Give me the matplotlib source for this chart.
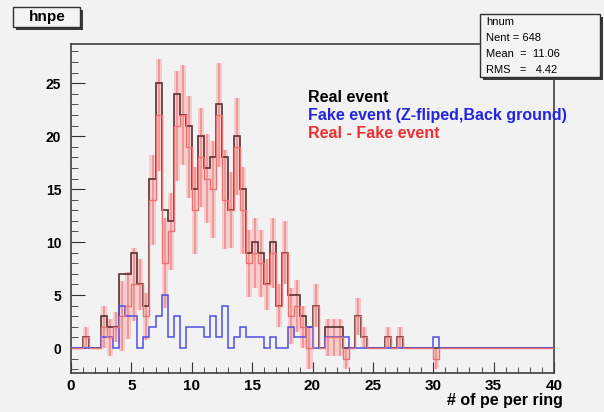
import numpy as np
import matplotlib.pyplot as plt
from matplotlib.patches import Rectangle

# number of photoelectrons per ring, 0.5 wide bins from 0 to 40
bin_lo, bin_hi, bin_w = 0.0, 40.0, 0.5

real_counts = [
    0, 0, 1, 0, 0, 3, 2, 2, 7, 7,
    9, 6, 4, 16, 25, 13, 12, 24, 22, 21,
    15, 20, 17, 18, 23, 18, 13, 20, 15, 9,
    10, 9, 6, 10, 4, 9, 5, 5, 3, 2,
    4, 0, 2, 2, 2, 0, 0, 3, 1, 0,
    0, 0, 1, 0, 1, 0, 0, 0, 0, 0,
    0, 0, 0, 0, 0, 0, 0, 0, 0, 0,
    0, 0, 0, 0, 0, 0, 0, 0, 0, 0,
]
fake_counts = [
    0, 0, 0, 0, 0, 1, 1, 0, 4, 3,
    3, 0, 1, 2, 3, 5, 1, 3, 0, 2,
    2, 2, 1, 3, 1, 4, 0, 1, 2, 1,
    1, 1, 0, 1, 0, 0, 2, 1, 1, 2,
    0, 0, 1, 1, 1, 1, 0, 0, 0, 0,
    0, 0, 0, 0, 0, 0, 0, 0, 0, 0,
    1, 0, 0, 0, 0, 0, 0, 0, 0, 0,
    0, 0, 0, 0, 0, 0, 0, 0, 0, 0,
]

legend_labels = ["Real event", "Fake event (Z-fliped,Back ground)", "Real - Fake event"]
stats_lines = ["hnum", "Nent = 648", "Mean  =  11.06", "RMS   =   4.42"]

real = np.array(real_counts, dtype=float)
fake = np.array(fake_counts, dtype=float)
diff = real - fake
err = np.sqrt(real + fake)
edges = np.arange(len(real) + 1) * bin_w + bin_lo
centers = edges[:-1] + bin_w / 2

bg = "#f2f2f2"
plt.rcParams["font.family"] = ["Liberation Sans", "DejaVu Sans"]
plt.rcParams["font.weight"] = "bold"

fig = plt.figure(figsize=(6.04, 4.12), dpi=100, facecolor=bg)
ax = fig.add_axes([71 / 604, 1 - 373 / 412, (554 - 71) / 604, (373 - 44) / 412])
ax.set_facecolor(bg)

# error boxes and bars of the subtracted histogram
has = (real + fake) > 0
ax.bar(centers[has], 2 * err[has], bottom=diff[has] - err[has], width=bin_w,
       color="#f7c8c8", alpha=0.9, linewidth=0, zorder=1)
ax.vlines(centers[has], diff[has] - err[has], diff[has] + err[has],
          color="#ec8a8a", linewidth=1.4, alpha=0.8, zorder=2)

ax.stairs(real, edges, color="#573232", linewidth=1.2, baseline=None, zorder=3)
ax.stairs(fake, edges, color="#5050e6", linewidth=1.1, baseline=None, zorder=4)
ax.stairs(diff, edges, color="#ee7070", linewidth=1.0, baseline=None, zorder=5)

ax.set_xlim(bin_lo, bin_hi)
ax.set_ylim(-2.36, 28.7)
ax.set_xticks(np.arange(0, 41, 5))
ax.set_yticks(np.arange(0, 26, 5))
ax.set_xticks(np.arange(0, 41, 1), minor=True)
ax.set_yticks(np.arange(-2, 29, 1), minor=True)
ax.tick_params(axis="both", which="both", direction="in", top=False, right=False,
               colors="#333333")
ax.tick_params(axis="y", which="major", length=10, pad=7, labelsize=10)
ax.tick_params(axis="y", which="minor", length=5)
ax.tick_params(axis="x", which="major", length=8, pad=4, labelsize=11)
ax.tick_params(axis="x", which="minor", length=4)
for lab in ax.get_xticklabels() + ax.get_yticklabels():
    lab.set_fontweight("bold")
    lab.set_color("black")
for sp in ax.spines.values():
    sp.set_color("#404040")
    sp.set_linewidth(1.2)

fig.text(563 / 604, 1 - 400 / 412, "# of pe per ring", ha="right", va="center",
         fontsize=11.5, fontweight="bold")

# legend text
leg_colors = ["black", "#2424e0", "#f03030"]
for i, (txt, c) in enumerate(zip(legend_labels, leg_colors)):
    fig.text(308 / 604, 1 - (98 + 17.5 * i) / 412, txt, color=c, ha="left",
             va="center", fontsize=11.5, fontweight="bold")


def boxed(x0, y0, x1, y1):
    # ROOT-style pave with a drop shadow, pixel coordinates from the top left
    W, H = 604, 412
    fig.patches.append(Rectangle(((x0 + 3) / W, 1 - (y1 + 3) / H), (x1 - x0) / W,
                                 (y1 - y0) / H, transform=fig.transFigure,
                                 facecolor="#3a3a3a", edgecolor="none", zorder=8))
    fig.patches.append(Rectangle((x0 / W, 1 - y1 / H), (x1 - x0) / W, (y1 - y0) / H,
                                 transform=fig.transFigure, facecolor="#f4f4f4",
                                 edgecolor="#303030", linewidth=1, zorder=9))


boxed(13, 7, 80, 27)
fig.text(47 / 604, 1 - 17 / 412, "hnpe", ha="center", va="center", fontsize=11,
         fontweight="bold", zorder=10)

boxed(480, 14, 600, 77)
for i, line in enumerate(stats_lines):
    fig.text(486 / 604, 1 - (22 + 16 * i) / 412, line, ha="left", va="center",
             fontsize=8, fontweight="normal", zorder=10)

fig.savefig("out.png", dpi=100, facecolor=bg)
